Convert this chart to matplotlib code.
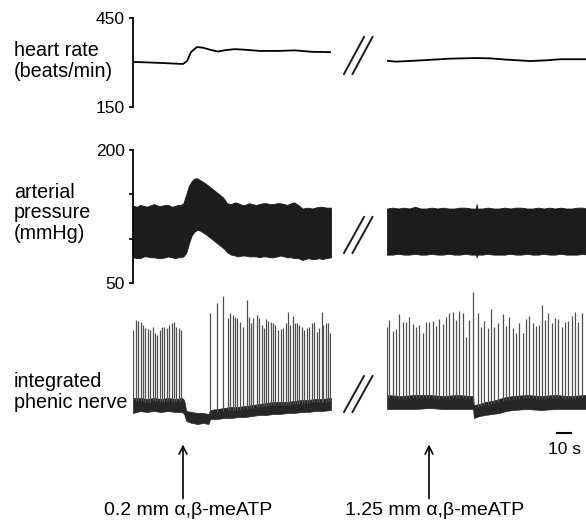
import matplotlib
matplotlib.use("Agg")
import matplotlib.pyplot as plt
import numpy as np

plt.rcParams['font.family'] = ['Liberation Sans', 'DejaVu Sans']

# ---------------- data (time in s) ----------------
# heart rate (beats/min)
hr_left_t = [0, 12.1, 26.4, 35.7, 38.6, 41.4, 45.7, 50, 55, 60.7, 66.4, 72.9, 80, 90.7, 103.6, 115.7, 127.9, 140.7]
hr_left_v = [302, 300, 297, 295, 305, 335, 352, 350, 343, 337, 342, 345, 343, 339, 339, 341, 336, 335]
hr_right_t = [0, 3.6, 7.1, 23.6, 45, 62.9, 73.6, 84.3, 102, 112.9, 123.6, 139.3, 141.5]
hr_right_v = [306, 304, 303, 307, 313, 315, 314, 310, 305, 307, 311, 311, 311]

# arterial pressure envelope (mmHg)
bp_left_t = [0, 3, 5, 8, 10, 13, 15, 18, 20, 23, 25, 28, 30, 32, 34, 36, 38, 40, 42, 44, 46, 48, 52, 56, 60,
             64, 65.5, 67, 70, 73, 75, 78, 80, 83, 85, 88, 90, 93, 95, 98, 100, 103, 105, 108, 110, 113, 115,
             118, 121, 125, 128, 130, 133, 135, 138, 141.4]
bp_left_hi = [137, 136, 138, 137, 136, 138, 139, 137, 137, 138, 138, 136, 137, 138, 138, 140, 150, 160, 165, 168, 168, 166, 162, 157, 152,
              147, 144, 140, 139, 141, 140, 138, 138, 140, 139, 138, 139, 140, 140, 139, 139, 140, 140, 139, 138, 140, 141,
              138, 134, 135, 134, 135, 136, 136, 135, 135]
bp_left_lo = [79, 78, 78, 80, 80, 79, 79, 78, 78, 79, 80, 79, 78, 79, 79, 80, 84, 95, 104, 108, 110, 109, 105, 100, 95,
              90, 88, 85, 82, 81, 80, 81, 81, 80, 80, 80, 79, 80, 80, 79, 79, 80, 81, 80, 79, 79, 78,
              78, 76, 78, 77, 77, 78, 77, 78, 79]
bp_right_t = [0, 4, 8, 12, 16, 20, 24, 28, 32, 36, 40, 44, 48, 52, 56, 60, 63.5, 64, 64.5, 68, 72, 76, 80, 84,
              88, 92, 96, 100, 104, 108, 112, 116, 120, 124, 128, 132, 136, 140, 142.1]
bp_right_hi = [134, 135, 134, 135, 134, 136, 134, 134, 135, 134, 135, 134, 134, 135, 135, 134, 134, 139, 134, 134, 135, 134, 134, 135,
               134, 135, 135, 134, 134, 135, 134, 135, 134, 135, 134, 134, 135, 135, 134]
bp_right_lo = [82, 82, 83, 82, 82, 83, 82, 82, 83, 82, 82, 83, 82, 82, 83, 82, 82, 79, 82, 82, 83, 82, 82, 82,
               83, 82, 82, 83, 82, 82, 83, 82, 82, 83, 82, 82, 82, 83, 82]

# integrated phrenic nerve baseline band (a.u.)
pn_left_t = [0, 5, 10, 15, 20, 25, 30, 35, 36.5, 38, 42, 46, 50, 54, 55, 60, 65, 70, 75, 80, 85, 90, 95, 100,
             105, 110, 115, 120, 125, 130, 135, 141.4]
pn_left_lo = [27, 29, 28, 29, 28, 29, 28, 28, 26, 19, 17, 16, 17, 16, 21, 21, 22, 22, 23, 23, 24, 25, 25, 26,
              26, 27, 27, 28, 28, 29, 29, 30]
pn_left_hi = [42, 42, 41, 42, 41, 42, 41, 42, 40, 29, 28, 27, 27, 26, 30, 31, 32, 33, 33, 34, 35, 36, 37, 38,
              38, 38, 39, 40, 40, 41, 41, 42]
pn_right_t = [0, 10, 20, 30, 40, 50, 60, 61.5, 62, 66, 70, 75, 80, 85, 90, 100, 110, 120, 130, 142.1]
pn_right_lo = [31, 31, 31, 32, 31, 31, 31, 31, 22, 24, 25, 26, 27, 29, 30, 31, 30, 31, 31, 31]
pn_right_hi = [45, 44, 45, 45, 44, 45, 44, 44, 35, 36, 38, 39, 41, 43, 44, 45, 44, 45, 44, 45]

# burst times (s) and peak heights (a.u.)
burst_left_t = [0.3, 2.1, 3.8, 5.5, 6.9, 8.8, 10.5, 12.1, 14.0, 15.7, 17.4, 19.0, 20.7, 22.4, 24.0, 25.9, 27.6,
                29.3, 30.9, 32.6, 34.3,
                55.0, 60.2, 64.0, 67.6, 69.3, 71.2, 72.9, 74.5, 76.4, 78.3, 81.2, 82.6, 84.0, 86.0, 88.3, 90.2,
                91.9, 93.6, 95.0, 96.7, 98.3, 100.2, 101.7, 103.8, 105.7, 107.4, 109.0, 110.9, 112.1, 114.0,
                115.7, 116.9, 118.6, 120.5, 122.1, 124.0, 125.9, 127.6, 129.5, 131.2, 132.9, 134.8, 136.0,
                137.9, 139.5, 141.0]
burst_left_h = [110, 120, 119, 118, 115, 112, 111, 110, 113, 107, 105, 110, 113, 113, 112, 115, 117,
                118, 113, 112, 110,
                127, 137, 144, 122, 127, 125, 123, 122, 118, 113, 140, 123, 117, 122, 125, 122,
                115, 112, 121, 119, 118, 117, 115, 110, 111, 112, 117, 128, 115, 124,
                117, 117, 115, 113, 110, 112, 113, 117, 118, 108, 112, 128, 115,
                117, 117, 107]
burst_right_t = [0.3, 1.7, 4.0, 6.4, 8.8, 11.2, 13.6, 15.9, 18.3, 20.7, 23.1, 25.5, 27.9, 30.2, 32.6, 35.0,
                 37.4, 39.8, 42.1, 44.5, 46.9, 49.3, 51.7, 54.0, 56.4, 58.8, 61.7, 64.8, 67.1, 69.5, 71.9,
                 74.3, 76.7, 79.0, 82.6, 85.0, 87.4, 89.8, 92.1, 94.5, 96.9, 99.3, 101.7, 104.0, 106.4,
                 108.8, 110.5, 112.9, 115.2, 117.6, 120.0, 122.4, 124.8, 127.1, 129.5, 131.9, 134.3,
                 136.7, 139.0]
burst_right_h = [113, 120, 109, 111, 126, 118, 118, 123, 116, 113, 115, 107, 118, 118, 119, 114,
                 121, 116, 123, 127, 128, 120, 129, 127, 103, 120, 148, 127, 113, 119, 112,
                 131, 113, 117, 126, 114, 123, 112, 107, 117, 107, 121, 124, 117, 114,
                 115, 135, 120, 127, 117, 122, 121, 113, 118, 119, 124, 128,
                 118, 127]

t_inj_left = 35.7
t_inj_right = 30.0

# ---------------- layout helpers ----------------
W, H = 586, 522
fig = plt.figure(figsize=(W / 100, H / 100), dpi=100)


def px_axes(x0, x1, y_top, y_bot):
    return fig.add_axes([x0 / W, 1 - y_bot / H, (x1 - x0) / W, (y_bot - y_top) / H])


def clean(ax, keep_left=False):
    for s in ['top', 'right', 'bottom']:
        ax.spines[s].set_visible(False)
    ax.spines['left'].set_visible(keep_left)
    ax.set_xticks([])
    if not keep_left:
        ax.set_yticks([])
    ax.patch.set_alpha(0)


XL = (0, 141.4)
XR = (0, 142.1)
ink = '#1c1c1c'

# heart rate
ax_hr_l = px_axes(133, 331, 18, 107)
ax_hr_r = px_axes(387, 586, 18, 107)
ax_hr_l.plot(hr_left_t, hr_left_v, color='black', lw=1.3)
ax_hr_r.plot(hr_right_t, hr_right_v, color='black', lw=1.3)
for a, xl in ((ax_hr_l, XL), (ax_hr_r, XR)):
    a.set_xlim(*xl)
    a.set_ylim(150, 450)
clean(ax_hr_l, keep_left=True)
clean(ax_hr_r)
ax_hr_l.set_yticks([150, 450])
ax_hr_l.set_yticklabels(['150', '450'])

# arterial pressure
ax_bp_l = px_axes(133, 331, 150, 283)
ax_bp_r = px_axes(387, 586, 150, 283)
ax_bp_l.fill_between(bp_left_t, bp_left_lo, bp_left_hi, color=ink, lw=0.6, edgecolor=ink)
ax_bp_r.fill_between(bp_right_t, bp_right_lo, bp_right_hi, color=ink, lw=0.6, edgecolor=ink)
for a, xl in ((ax_bp_l, XL), (ax_bp_r, XR)):
    a.set_xlim(*xl)
    a.set_ylim(50, 200)
clean(ax_bp_l, keep_left=True)
clean(ax_bp_r)
ax_bp_l.set_yticks([50, 100, 150, 200])
ax_bp_l.set_yticklabels(['50', '', '', '200'])

for a in (ax_hr_l, ax_bp_l):
    a.spines['left'].set_linewidth(1.3)
    a.tick_params(axis='y', direction='out', length=3, width=1.2, pad=3, labelsize=12.5)

# phrenic nerve
ax_pn_l = px_axes(133, 331, 290, 440)
ax_pn_r = px_axes(387, 586, 290, 440)
for a, bt, bl, bh, tt, th, xl in ((ax_pn_l, pn_left_t, pn_left_lo, pn_left_hi, burst_left_t, burst_left_h, XL),
                                  (ax_pn_r, pn_right_t, pn_right_lo, pn_right_hi, burst_right_t, burst_right_h, XR)):
    base = np.interp(tt, bt, bh)
    a.vlines(tt, base - 3, th, color='#505050', lw=0.9)
    a.fill_between(bt, bl, bh, color='#262626', lw=0.5, edgecolor='#262626')
    a.set_xlim(*xl)
    a.set_ylim(0, 150)
    clean(a)

# scale bar 10 s
ax_pn_r.plot([121.4, 131.4], [7, 7], color='black', lw=1.5, clip_on=False)
ax_pn_r.text(126.4, -9, '10 s', ha='center', va='center', fontsize=12.5)

# injection arrows
for a, t, lab in ((ax_pn_l, t_inj_left, '0.2 mm α,β-meATP'), (ax_pn_r, t_inj_right, '1.25 mm α,β-meATP')):
    a.annotate('', xy=(t, -0.03), xytext=(t, -0.39), xycoords=('data', 'axes fraction'),
               textcoords=('data', 'axes fraction'),
               arrowprops=dict(arrowstyle='->', lw=1.2, color='black', mutation_scale=14, shrinkA=0, shrinkB=0),
               annotation_clip=False)
    a.text(t + 4, -0.47, lab, ha='center', va='center', fontsize=14,
           transform=matplotlib.transforms.blended_transform_factory(a.transData, a.transAxes))

# break marks (overlay in pixel coordinates)
ov = fig.add_axes([0, 0, 1, 1])
ov.set_xlim(0, W)
ov.set_ylim(H, 0)
ov.axis('off')
ov.patch.set_alpha(0)
for (y_lo, y_hi) in ((74, 37), (253, 217), (412, 376)):
    for dx in (0, 8.5):
        ov.plot([344 + dx, 364 + dx], [y_lo, y_hi], color=ink, lw=1.4)

# row labels
lab_kw = dict(ha='left', va='center', fontsize=14.2, linespacing=1.12)
fig.text(14 / W, 1 - 61 / H, 'heart rate\n(beats/min)', **lab_kw)
fig.text(14 / W, 1 - 213 / H, 'arterial\npressure\n(mmHg)', **lab_kw)
fig.text(14 / W, 1 - 392 / H, 'integrated\nphenic nerve', **lab_kw)

fig.savefig('out.png', dpi=100)
